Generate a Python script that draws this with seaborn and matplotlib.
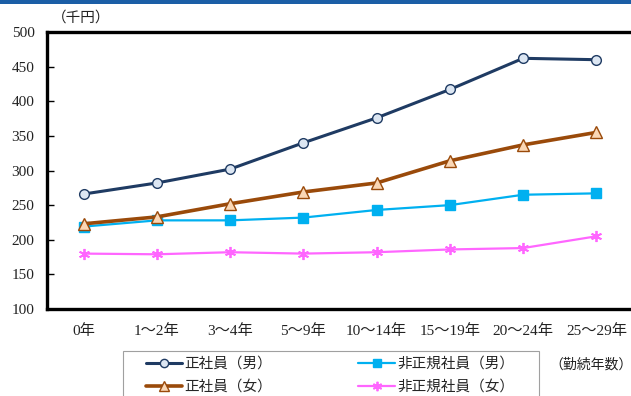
import numpy as np
import pandas as pd
import matplotlib
matplotlib.use("Agg")
import matplotlib.pyplot as plt
from matplotlib.patches import Rectangle
import seaborn as sns

sns.set_style("white")
plt.rcParams['font.family'] = ['Liberation Serif', 'Noto Sans CJK JP', 'DejaVu Sans']

# data (thousand yen) by years of service
categories = ["0年", "1～2年", "3～4年", "5～9年", "10～14年", "15～19年", "20～24年", "25～29年"]
regular_men = [266, 282, 302, 340, 376, 417, 462, 460]
regular_women = [223, 233, 252, 269, 282, 314, 337, 355]
nonregular_men = [219, 228, 228, 232, 243, 250, 265, 267]
nonregular_women = [180, 179, 182, 180, 182, 186, 188, 205]
series_names = ["正社員（男）", "正社員（女）", "非正規社員（男）", "非正規社員（女）"]

df = pd.DataFrame({
    "pos": np.tile(np.arange(len(categories)), 4),
    "value": regular_men + regular_women + nonregular_men + nonregular_women,
    "series": np.repeat(series_names, len(categories)),
})

styles = {
    "正社員（男）": dict(color="#1F3B63", lw=2.2, marker="o", ms=7, mfc="#DCE6F2", mec="#1F3B63", mew=1.0),
    "正社員（女）": dict(color="#9A4A0A", lw=2.6, marker="^", ms=8, mfc="#FAD7B5", mec="#9A4A0A", mew=1.0),
    "非正規社員（男）": dict(color="#00B0F0", lw=1.6, marker="s", ms=6.5, mfc="#00B0F0", mec="#00B0F0", mew=1.0),
    "非正規社員（女）": dict(color="#FF66FF", lw=1.6, marker=(6, 2, 0), ms=8, mfc="#FF66FF", mec="#FF66FF", mew=1.3),
}

fig = plt.figure(figsize=(6.31, 3.96), dpi=100)
ax = fig.add_axes([47 / 631, 1 - 309 / 396, (633 - 47) / 631, (309 - 32) / 396])

# draw in back-to-front order so the men's regular line sits on top
for name in ["非正規社員（女）", "非正規社員（男）", "正社員（女）", "正社員（男）"]:
    st = styles[name]
    sns.lineplot(data=df[df["series"] == name], x="pos", y="value", ax=ax,
                 color=st["color"], linewidth=st["lw"], marker=st["marker"],
                 markersize=st["ms"], markerfacecolor=st["mfc"],
                 markeredgecolor=st["mec"], markeredgewidth=st["mew"],
                 label=name, legend=False)

ax.set_xlim(-0.5, 7.5)
ax.set_ylim(100, 500)
ax.set_yticks(np.arange(100, 501, 50))
ax.set_xticks(np.arange(0.5, 7.5, 1))
ax.set_xticklabels([])
ax.set_xticks(np.arange(len(categories)), minor=True)
ax.set_xticklabels(categories, minor=True)
ax.tick_params(axis="x", which="major", direction="in", length=5, width=1, color="black")
ax.tick_params(axis="x", which="minor", length=0, pad=11, labelsize=11, labelcolor="#222222")
ax.tick_params(axis="y", direction="in", length=5, width=1, color="black",
               pad=9, labelsize=11, labelcolor="#222222", left=True)
ax.set_xlabel("")
ax.set_ylabel("")
for side in ["left", "bottom", "top", "right"]:
    ax.spines[side].set_visible(True)
    ax.spines[side].set_color("black")
    ax.spines[side].set_linewidth(2.4)

# legend (columns: regular / non-regular); the frame runs off the bottom edge
handles, labels = ax.get_legend_handles_labels()
order = [labels.index(n) for n in series_names]
leg = fig.legend([handles[i] for i in order], [labels[i] for i in order],
                 loc="upper left", bbox_to_anchor=(146 / 631, 1 - 357 / 396),
                 ncol=2, frameon=False, handlelength=2.5, handletextpad=0.15,
                 columnspacing=5.9, labelspacing=0.6, borderpad=0, borderaxespad=0,
                 prop={"family": ["Noto Sans CJK JP"], "size": 10.5})
for h in leg.legend_handles:
    h.set_markersize(h.get_markersize() * 0.85)
fig.add_artist(Rectangle((123 / 631, -0.05), 416 / 631, 1 - 351 / 396 + 0.05,
                         transform=fig.transFigure, facecolor="none",
                         edgecolor="#A0A0A0", linewidth=0.8))

fig.text(52 / 631, 1 - 18 / 396, "（千円）", ha="left", va="center",
         family=["Noto Sans CJK JP"], fontsize=10.5, color="#222222")
fig.text(549 / 631, 1 - 365 / 396, "（勤続年数）", ha="left", va="center",
         family=["Noto Sans CJK JP"], fontsize=10, color="#222222")

# blue band along the top edge
fig.add_artist(Rectangle((0, 1 - 4 / 396), 1, 4 / 396, transform=fig.transFigure,
                         facecolor="#1B5EA6", edgecolor="none"))

fig.savefig("out.png", dpi=100)
